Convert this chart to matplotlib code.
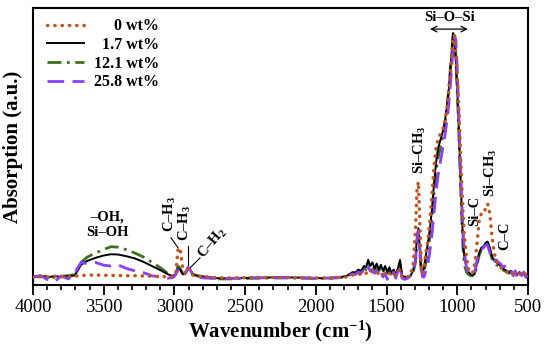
import matplotlib
matplotlib.use("Agg")
import matplotlib.pyplot as plt
from matplotlib.ticker import MultipleLocator

plt.rcParams['font.family'] = ['Liberation Serif', 'DejaVu Serif']
plt.rcParams['mathtext.fontset'] = 'custom'
plt.rcParams['mathtext.rm'] = 'Liberation Serif:bold'
plt.rcParams['mathtext.bf'] = 'Liberation Serif:bold'
plt.rcParams['mathtext.default'] = 'bf'

# ---------------- data ----------------
wavenumber = [4000, 3950, 3900, 3850, 3800, 3750, 3710,
              3690, 3660, 3620, 3560, 3500, 3450, 3400, 3340, 3280, 3220, 3160, 3100, 3050, 3010,
              2990, 2975, 2960, 2940, 2920, 2904, 2890, 2870, 2840, 2800,
              2700, 2600, 2500, 2400, 2300, 2200, 2100, 2000, 1900, 1820,
              1780, 1760, 1740, 1720, 1700, 1680, 1660, 1645, 1630, 1615, 1600, 1585, 1570, 1555, 1540,
              1525, 1510, 1495, 1480, 1465, 1450, 1435, 1420, 1405, 1390, 1370, 1350, 1330, 1310,
              1295, 1285, 1275, 1265, 1255, 1245, 1235, 1225,
              1210, 1195, 1180, 1165, 1150, 1135, 1120, 1105, 1090, 1075, 1060, 1045, 1030, 1020, 1010,
              1000, 990, 980, 970, 960, 950, 935, 920, 905, 890, 875,
              860, 845, 830, 815, 800, 785, 770, 755, 740, 725, 710, 695, 680, 665, 650, 635, 620,
              605, 590, 575, 560, 545, 530, 515, 500]

abs_0 = [0.0, 0.002, 0.0, 0.003, 0.001, 0.0, 0.002,
         0.004, 0.006, 0.007, 0.008, 0.007, 0.006, 0.006, 0.005, 0.005, 0.004, 0.003, 0.002, 0.001, 0.0,
         0.02, 0.11, 0.12, 0.03, 0.015, 0.035, 0.025, 0.008, 0.004, 0.002,
         -0.003, -0.004, -0.003, -0.002, -0.002, -0.002, -0.003, -0.004, -0.004, -0.002,
         0.0, 0.004, 0.008, 0.006, 0.012, 0.01, 0.018, 0.015, 0.025, 0.02, 0.022, 0.015, 0.02, 0.012, 0.018,
         0.01, 0.015, 0.008, 0.014, 0.006, 0.012, 0.005, 0.015, 0.03, 0.0, -0.003, 0.0, 0.01, 0.06,
         0.2, 0.36, 0.39, 0.22, 0.05, 0.015, 0.04, 0.09,
         0.14, 0.22, 0.33, 0.45, 0.53, 0.57, 0.585, 0.6, 0.63, 0.68, 0.76, 0.87, 0.98, 0.99, 0.92,
         0.82, 0.7, 0.55, 0.4, 0.27, 0.17, 0.08, 0.03, 0.015, 0.02, 0.06,
         0.14, 0.23, 0.26, 0.26, 0.28, 0.3, 0.26, 0.17, 0.1, 0.07, 0.05, 0.04, 0.03, 0.025, 0.02, 0.018, 0.02,
         0.012, 0.015, 0.008, 0.012, 0.02, 0.01, 0.012, 0.01]

abs_1_7 = [0.0, 0.005, -0.003, 0.004, 0.0, 0.003, 0.005,
           0.02, 0.05, 0.065, 0.078, 0.088, 0.093, 0.092, 0.085, 0.076, 0.062, 0.045, 0.028, 0.012, 0.003,
           0.012, 0.035, 0.03, 0.01, 0.02, 0.04, 0.03, 0.012, 0.006, 0.002,
           -0.005, -0.006, -0.004, -0.003, -0.002, -0.002, -0.003, -0.005, -0.005, 0.0,
           0.005, 0.012, 0.02, 0.018, 0.03, 0.025, 0.045, 0.04, 0.07, 0.045, 0.06, 0.035, 0.055, 0.03, 0.05,
           0.025, 0.045, 0.02, 0.04, 0.015, 0.03, 0.01, 0.035, 0.07, 0.005, 0.0, 0.002, 0.005, 0.03,
           0.08, 0.17, 0.2, 0.12, 0.03, 0.015, 0.04, 0.08,
           0.13, 0.19, 0.27, 0.38, 0.47, 0.53, 0.56, 0.59, 0.63, 0.69, 0.77, 0.88, 1.0, 0.98, 0.88,
           0.76, 0.62, 0.45, 0.3, 0.15, 0.08, 0.04, 0.02, 0.01, 0.005, 0.015,
           0.06, 0.1, 0.12, 0.125, 0.14, 0.145, 0.12, 0.085, 0.07, 0.06, 0.055, 0.045, 0.035, 0.03, 0.025, 0.02, 0.025,
           0.015, 0.02, 0.01, 0.02, 0.012, 0.018, 0.01, 0.015]

abs_12_1 = [0.002, 0.0, 0.004, -0.002, 0.003, 0.005, 0.01,
            0.03, 0.06, 0.08, 0.098, 0.112, 0.124, 0.122, 0.112, 0.098, 0.082, 0.06, 0.038, 0.016, 0.004,
            0.01, 0.045, 0.035, 0.012, 0.018, 0.035, 0.025, 0.01, 0.004, 0.0,
            -0.008, -0.008, -0.006, -0.005, -0.004, -0.004, -0.005, -0.006, -0.006, -0.002,
            0.004, 0.01, 0.015, 0.014, 0.025, 0.02, 0.035, 0.03, 0.055, 0.04, 0.045, 0.03, 0.04, 0.025, 0.038,
            0.02, 0.035, 0.015, 0.03, 0.012, 0.025, 0.01, 0.03, 0.05, 0.0, -0.005, 0.0, 0.005, 0.025,
            0.06, 0.14, 0.17, 0.1, 0.02, 0.005, 0.02, 0.05,
            0.1, 0.16, 0.24, 0.34, 0.43, 0.49, 0.53, 0.57, 0.62, 0.68, 0.77, 0.88, 0.99, 1.0, 0.9,
            0.76, 0.6, 0.42, 0.26, 0.12, 0.05, 0.02, 0.01, 0.005, 0.005, 0.012,
            0.05, 0.09, 0.11, 0.12, 0.135, 0.14, 0.11, 0.075, 0.06, 0.05, 0.045, 0.04, 0.03, 0.025, 0.02, 0.015, 0.02,
            0.012, 0.018, 0.008, 0.015, 0.01, 0.015, 0.008, 0.012]

abs_25_8 = [-0.002, 0.006, -0.01, -0.02, 0.004, -0.008, 0.01,
            0.03, 0.06, 0.055, 0.06, 0.048, 0.045, 0.05, 0.035, 0.025, 0.018, 0.005, 0.0, -0.005, -0.003,
            0.01, 0.03, 0.025, 0.005, 0.015, 0.04, 0.03, 0.01, 0.0, -0.004,
            -0.006, -0.006, -0.004, -0.004, -0.003, -0.003, -0.004, -0.005, -0.004, -0.001,
            0.003, 0.008, 0.012, 0.01, 0.02, 0.015, 0.03, 0.02, 0.04, 0.025, 0.03, 0.015, 0.025, 0.008, 0.02,
            0.0, 0.015, -0.01, 0.01, 0.005, 0.02, -0.005, 0.025, 0.04, -0.005, -0.01, -0.005, 0.005, 0.03,
            0.07, 0.15, 0.19, 0.12, 0.03, 0.0, 0.0, 0.02,
            0.05, 0.1, 0.17, 0.26, 0.35, 0.42, 0.47, 0.52, 0.57, 0.63, 0.71, 0.81, 0.94, 0.99, 0.97,
            0.85, 0.68, 0.5, 0.33, 0.2, 0.1, 0.04, 0.015, 0.008, 0.01, 0.025,
            0.07, 0.1, 0.11, 0.12, 0.13, 0.13, 0.1, 0.07, 0.065, 0.07, 0.06, 0.055, 0.04, 0.045, 0.03, 0.02, 0.025,
            0.005, 0.025, -0.005, 0.02, 0.005, 0.02, -0.002, 0.015]

series_labels = ['0 wt%', '1.7 wt%', '12.1 wt%', '25.8 wt%']
x_ticks = [4000, 3500, 3000, 2500, 2000, 1500, 1000, 500]

# ---------------- figure ----------------
fig = plt.figure(figsize=(5.5, 3.57), dpi=100)
ax = fig.add_axes([0.06, 0.2017, 0.90, 0.7759])

c_red = '#c0561e'
c_black = '#000000'
c_green = '#3f6f1f'
c_purple = '#8a3ffc'

l1, = ax.plot(wavenumber, abs_1_7, color=c_black, lw=1.4, label=series_labels[1], zorder=3)
l2, = ax.plot(wavenumber, abs_12_1, color=c_green, lw=2.0, dashes=(5, 2, 1, 2),
              label=series_labels[2], zorder=2)
l3, = ax.plot(wavenumber, abs_25_8, color=c_purple, lw=2.0, dashes=(6, 3),
              label=series_labels[3], zorder=4)
l0, = ax.plot(wavenumber, abs_0, color=c_red, lw=2.5, linestyle=(0, (0.1, 2.0)),
              dash_capstyle='round', solid_capstyle='round', label=series_labels[0], zorder=5)

ax.set_xlim(4000, 500)
ax.set_ylim(-0.033, 1.1025)
ax.set_xticks(x_ticks)
ax.xaxis.set_minor_locator(MultipleLocator(100))
ax.tick_params(axis='x', which='major', direction='out', length=7, width=1.3,
               labelsize=13.5, pad=3)
ax.tick_params(axis='x', which='minor', direction='out', length=3.5, width=1.2)
ax.set_yticks([])
for s in ax.spines.values():
    s.set_linewidth(1.5)

ax.set_xlabel(r'Wavenumber (cm$^{-1}$)', fontsize=15, fontweight='bold', labelpad=2)
ax.set_ylabel('Absorption (a.u.)', fontsize=15, fontweight='bold', labelpad=7)

leg = ax.legend(handles=[l0, l1, l2, l3], loc='upper left', bbox_to_anchor=(0.0, 1.015),
                frameon=False, handlelength=2.3, handletextpad=0.6, labelspacing=0.17,
                borderaxespad=0.5, prop={'weight': 'bold', 'size': 11.5})
fig.canvas.draw()
renderer = fig.canvas.get_renderer()
widths = [t.get_window_extent(renderer).width for t in leg.get_texts()]
maxw = max(widths)
for t, w in zip(leg.get_texts(), widths):
    t.set_position((maxw - w, 0))

# ---------------- annotations ----------------
fs = 10.5
ax.text(3477, 0.213, '–OH,\nSi–OH', ha='center', va='center', fontsize=fs,
        fontweight='bold', linespacing=1.25)

ax.text(3031, 0.26, r'C–H$_3$', rotation=90, ha='center', va='center', fontsize=fs, fontweight='bold')
ax.plot([3024, 2975], [0.16, 0.12], color='black', lw=0.8)
ax.text(2925, 0.22, r'C–H$_3$', rotation=90, ha='center', va='center', fontsize=fs, fontweight='bold')
ax.plot([2904, 2904], [0.127, 0.045], color='black', lw=0.8)
ax.text(2812, 0.082, r'C–H$_2$', rotation=50, rotation_mode='anchor', ha='left', va='center',
        fontsize=fs, fontweight='bold')
ax.plot([2890, 2819], [0.037, 0.078], color='black', lw=0.8)

ax.text(1264, 0.52, r'Si–CH$_3$', rotation=90, ha='center', va='center', fontsize=fs, fontweight='bold')
ax.text(875, 0.27, 'Si–C', rotation=90, ha='center', va='center', fontsize=fs, fontweight='bold')
ax.text(762, 0.426, r'Si–CH$_3$', rotation=90, ha='center', va='center', fontsize=fs, fontweight='bold')
ax.text(663, 0.168, 'C–C', rotation=90, ha='center', va='center', fontsize=fs, fontweight='bold')

ax.text(1052, 1.063, 'Si–O–Si', ha='center', va='center', fontsize=fs, fontweight='bold')
ax.annotate('', xy=(1193, 1.016), xytext=(925, 1.016),
            arrowprops=dict(arrowstyle='<->', color='black', lw=0.9, shrinkA=0, shrinkB=0))

fig.savefig('out.png', dpi=100)
